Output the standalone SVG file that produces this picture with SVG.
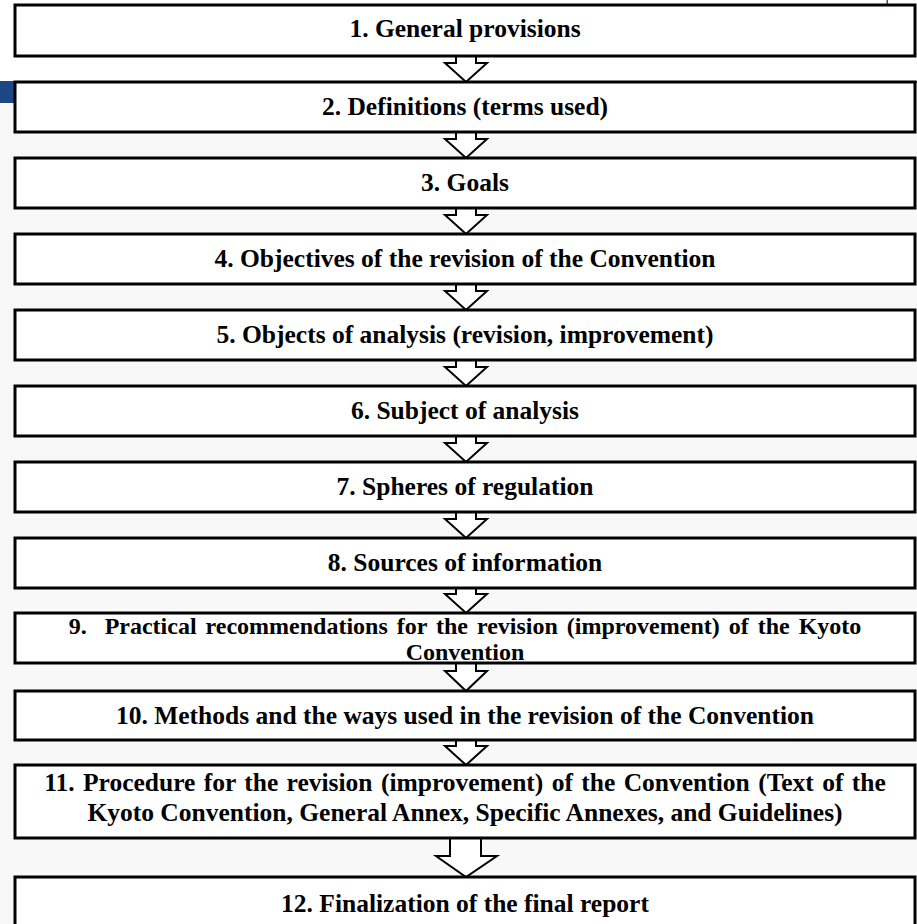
<svg xmlns="http://www.w3.org/2000/svg" width="917" height="924" viewBox="0 0 917 924">
<style>
.box{fill:#ffffff;stroke:#000000;stroke-width:3}
.arr{fill:#ffffff;stroke:#000000;stroke-width:2;stroke-linejoin:miter}
.t{font-family:"Liberation Serif","Times New Roman",serif;font-weight:bold;font-size:25.5px;fill:#000000;text-anchor:middle}
.s{font-size:24px}
</style>
<rect x="0" y="0" width="917" height="924" fill="#ffffff"/>
<rect x="0" y="82" width="917" height="842" fill="#f8f8f8"/>
<rect x="0" y="81" width="917" height="2" fill="#0d2a55"/>
<rect x="0" y="81" width="15" height="22" fill="#1b4786"/>
<rect x="886.5" y="0" width="1.5" height="6" fill="#33508a"/>
<g id="connectors">
<path class="arr" d="M456,56 V63 H445 L466,82 L487,63 H476 V56"/>
<path class="arr" d="M456,132 V139 H445 L466,158 L487,139 H476 V132"/>
<path class="arr" d="M456,208 V215 H445 L466,234 L487,215 H476 V208"/>
<path class="arr" d="M456,284 V291 H445 L466,310 L487,291 H476 V284"/>
<path class="arr" d="M456,360 V367 H445 L466,386 L487,367 H476 V360"/>
<path class="arr" d="M456,436 V443 H445 L466,462 L487,443 H476 V436"/>
<path class="arr" d="M456,512 V519 H445 L466,538 L487,519 H476 V512"/>
<path class="arr" d="M456,588 V594 H445 L466,613 L487,594 H476 V588"/>
<path class="arr" d="M456,663 V671 H445 L466,691 L487,671 H476 V663"/>
<path class="arr" d="M456,740 V746 H445 L466,765 L487,746 H476 V740"/>
<path class="arr" d="M450,838 V856 H436 L466,877 L497,856 H481 V838"/>
</g>
<g id="n1"><rect class="box" x="15" y="5" width="900" height="51"/><text class="t" x="465" y="37">1. General provisions</text></g>
<g id="n2"><rect class="box" x="15" y="82" width="900" height="50"/><text class="t" x="465" y="115">2. Definitions (terms used)</text></g>
<g id="n3"><rect class="box" x="15" y="158" width="900" height="50"/><text class="t" x="465" y="191">3. Goals</text></g>
<g id="n4"><rect class="box" x="15" y="234" width="900" height="50"/><text class="t" x="465" y="267">4. Objectives of the revision of the Convention</text></g>
<g id="n5"><rect class="box" x="15" y="310" width="900" height="50"/><text class="t" x="465" y="343">5. Objects of analysis (revision, improvement)</text></g>
<g id="n6"><rect class="box" x="15" y="386" width="900" height="50"/><text class="t" x="465" y="419">6. Subject of analysis</text></g>
<g id="n7"><rect class="box" x="15" y="462" width="900" height="50"/><text class="t" x="465" y="495">7. Spheres of regulation</text></g>
<g id="n8"><rect class="box" x="15" y="538" width="900" height="50"/><text class="t" x="465" y="571">8. Sources of information</text></g>
<g id="n9"><rect class="box" x="15" y="613" width="900" height="50"/><text class="t s" xml:space="preserve"><tspan x="465" y="634" style="word-spacing:3px">9.  Practical recommendations for the revision (improvement) of the Kyoto</tspan><tspan x="465" y="660">Convention</tspan></text></g>
<g id="n10"><rect class="box" x="15" y="691" width="900" height="49"/><text class="t" x="465" y="724">10. Methods and the ways used in the revision of the Convention</text></g>
<g id="n11"><rect class="box" x="15" y="765" width="900" height="73"/><text class="t"><tspan x="465" y="791" style="word-spacing:2px">11. Procedure for the revision (improvement) of the Convention (Text of the</tspan><tspan x="465" y="821">Kyoto Convention, General Annex, Specific Annexes, and Guidelines)</tspan></text></g>
<g id="n12"><rect class="box" x="15" y="877" width="900" height="60"/><text class="t" x="465" y="912">12. Finalization of the final report</text></g>
</svg>
